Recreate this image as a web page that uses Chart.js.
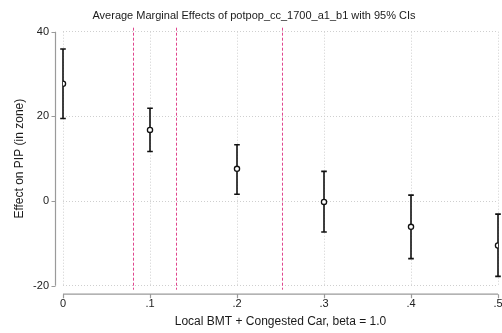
<!DOCTYPE html>
<html>
<head>
<meta charset="utf-8">
<script src="https://cdn.jsdelivr.net/npm/chart.js@4/dist/chart.umd.min.js"></script>
<style>
  html, body { margin: 0; padding: 0; background: #fff; overflow: hidden; }
  #wrap { width: 502px; height: 333px; position: relative; }
  #chart { display: block; }
</style>
</head>
<body>
<div id="wrap"><canvas id="chart"></canvas></div>
<script>
// ── margins data ──
const xLevels = [0, 0.1, 0.2, 0.3, 0.4, 0.5];
const effects = [27.7, 16.8, 7.6, -0.2, -6.1, -10.5];
const ciLow   = [19.5, 11.7, 1.6, -7.3, -13.6, -17.8];
const ciHigh  = [35.9, 21.9, 13.3, 7.0, 1.4, -3.1];
const cutoffs = [0.081, 0.130, 0.252];
const yTicks  = [-20, 0, 20, 40];

const FONT = 'Helvetica, "Liberation Sans", Arial, sans-serif';
const AXIS_GAP = 8;   // axes sit off the plot region, Stata style
const TICK_LEN = 4;

/* ═══ vertical dashed cutoff lines ═══ */
const cutoffLines = {
  id: 'cutoffLines',
  beforeDatasetsDraw(chart) {
    const { ctx, chartArea, scales: { x } } = chart;
    ctx.save();
    ctx.strokeStyle = '#e0468e';
    ctx.lineWidth = 1;
    ctx.setLineDash([3, 2]);
    cutoffs.forEach(c => {
      const px = Math.round(x.getPixelForValue(c)) + 0.5;
      ctx.beginPath();
      ctx.moveTo(px, chartArea.top - 4);
      ctx.lineTo(px, chartArea.bottom + 4);
      ctx.stroke();
    });
    ctx.restore();
  }
};

/* ═══ CI whiskers ═══ */
const ciBars = {
  id: 'ciBars',
  beforeDatasetsDraw(chart) {
    const { ctx, scales: { x, y } } = chart;
    ctx.save();
    ctx.strokeStyle = '#111';
    ctx.lineWidth = 1.6;
    xLevels.forEach((lv, i) => {
      const px = x.getPixelForValue(lv);
      const lo = y.getPixelForValue(ciLow[i]);
      const hi = y.getPixelForValue(ciHigh[i]);
      ctx.beginPath();
      ctx.moveTo(px, lo); ctx.lineTo(px, hi);
      ctx.moveTo(px - 2.8, lo); ctx.lineTo(px + 2.8, lo);
      ctx.moveTo(px - 2.8, hi); ctx.lineTo(px + 2.8, hi);
      ctx.stroke();
    });
    ctx.restore();
  }
};

/* ═══ offset axis lines + tick marks ═══ */
const offsetAxes = {
  id: 'offsetAxes',
  afterDraw(chart) {
    const { ctx, scales: { x, y } } = chart;
    const ax = chart.chartArea.left - AXIS_GAP + 0.5;
    const ay = chart.chartArea.bottom + AXIS_GAP + 0.5;
    ctx.save();
    ctx.strokeStyle = '#9a9a9a';
    ctx.lineWidth = 1.2;
    ctx.beginPath();
    ctx.moveTo(ax, y.getPixelForValue(40));
    ctx.lineTo(ax, y.getPixelForValue(-20));
    yTicks.forEach(t => {
      const py = Math.round(y.getPixelForValue(t)) + 0.5;
      ctx.moveTo(ax, py); ctx.lineTo(ax - TICK_LEN, py);
    });
    ctx.moveTo(x.getPixelForValue(0), ay);
    ctx.lineTo(x.getPixelForValue(0.5), ay);
    xLevels.forEach(t => {
      const px = Math.round(x.getPixelForValue(t)) + 0.5;
      ctx.moveTo(px, ay); ctx.lineTo(px, ay + TICK_LEN);
    });
    ctx.stroke();
    ctx.restore();
  }
};

new Chart(document.getElementById('chart'), {
  type: 'scatter',
  data: {
    datasets: [{
      data: xLevels.map((lv, i) => ({ x: lv, y: effects[i] })),
      pointStyle: 'circle',
      pointRadius: 2.6,
      pointBorderWidth: 1.3,
      pointBorderColor: '#111',
      pointBackgroundColor: '#fff',
      pointHoverRadius: 2.6,
    }]
  },
  options: {
    responsive: true,
    maintainAspectRatio: false,
    animation: false,
    layout: { padding: { left: 10, right: 4, top: 0, bottom: 0 } },
    plugins: {
      legend: { display: false },
      tooltip: { enabled: false },
      title: {
        display: true,
        text: 'Average Marginal Effects of potpop_cc_1700_a1_b1 with 95% CIs',
        color: '#1a1a1a',
        font: { family: FONT, size: 11, weight: 'normal' },
        padding: { top: 9, bottom: 9.5 }
      }
    },
    scales: {
      x: {
        type: 'linear',
        min: 0,
        max: 0.5,
        afterFit: s => {
          s.height = 47.3;
          s.paddingLeft = 0;
          s.paddingRight = 0;
        },
        afterBuildTicks: s => { s.ticks = xLevels.map(v => ({ value: v })); },
        ticks: {
          color: '#222',
          font: { family: FONT, size: 11 },
          padding: 12,
          maxRotation: 0,
          callback: v => v === 0 ? '0' : String(Math.round(v * 10) / 10).replace(/^0/, '')
        },
        grid: { color: '#cfcfcf', drawTicks: false, lineWidth: 1 },
        border: { display: false, dash: [1, 2] },
        title: {
          display: true,
          text: 'Local BMT + Congested Car, beta = 1.0',
          color: '#1a1a1a',
          font: { family: FONT, size: 12 },
          padding: { top: 2, bottom: 4 }
        }
      },
      y: {
        min: -20,
        max: 40,
        afterFit: s => {
          s.width = 53;
          s.paddingTop = 0;
          s.paddingBottom = 0;
        },
        afterBuildTicks: s => { s.ticks = yTicks.map(v => ({ value: v })); },
        ticks: {
          color: '#222',
          font: { family: FONT, size: 11 },
          padding: 14
        },
        grid: { color: '#cfcfcf', drawTicks: false, lineWidth: 1 },
        border: { display: false, dash: [1, 2] },
        title: {
          display: true,
          text: 'Effect on PIP (in zone)',
          color: '#1a1a1a',
          font: { family: FONT, size: 12 },
          padding: { top: 2, bottom: 0 }
        }
      }
    }
  },
  plugins: [cutoffLines, ciBars, offsetAxes]
});
</script>
</body>
</html>
